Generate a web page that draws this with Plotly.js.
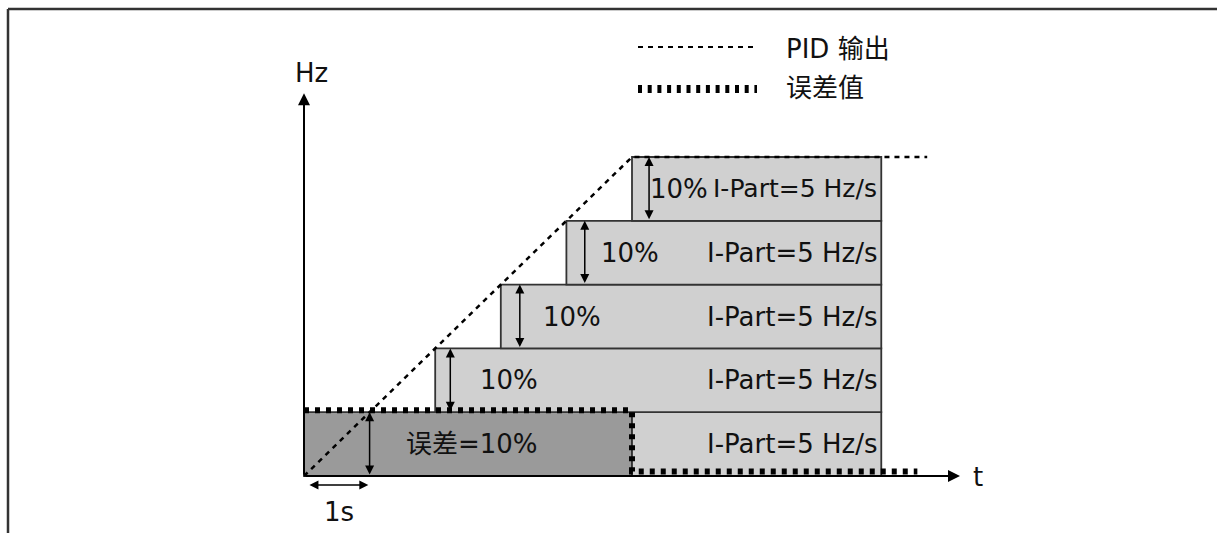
<!DOCTYPE html>
<html><head><meta charset="utf-8">
<script src="https://cdn.plot.ly/plotly-3.0.1.min.js"></script>
<style>html,body{margin:0;padding:0;background:#fff}</style>
</head><body><div id="chart" style="width:1217px;height:533px"></div>
<script>
// time in seconds, level in percent
const pidT = [0, 5, 9.5];
const pidV = [0, 50, 50];
const errT = [0, 5, 5, 9.35];
const errV = [10.3, 10.3, 0.7, 0.7];
const errBoxT = [0, 5];
const errBoxV = [0, 10];
const errLabel = '误差=10%';
const errLabelT = 2.56;
const stepStart = [5, 2, 3, 4, 5];
const stepEnd = [8.8, 8.8, 8.8, 8.8, 8.8];
const stepLow = [0, 10, 20, 30, 40];
const stepHigh = [10, 20, 30, 40, 50];
const stepLabels = ['I-Part=5 Hz/s', 'I-Part=5 Hz/s', 'I-Part=5 Hz/s', 'I-Part=5 Hz/s', 'I-Part=5 Hz/s'];
const stepLabelT = 8.76;
const pctLabels = ['10%', '10%', '10%', '10%'];
const pctLabelT = [3.12, 4.09, 4.97, 5.72];
const arrowT = [1.0, 2.23, 3.29, 4.28, 5.26];
const axisEndT = 10.0;
const axisEndV = 60;
const oneSecArrow = [0.06, 0.98];
const legendNames = ['PID 输出', '误差值'];

const FAMILY = 'DejaVu Sans, Noto Sans CJK SC, sans-serif';
const FONT = {family: FAMILY, size: 26, color: '#111'};
const FONT_TOP = {family: FAMILY, size: 25, color: '#111'};
const pxX = 1217, pxY = 533;
const px2paperX = p => p / pxX;
const px2paperY = p => 1 - p / pxY;

const traces = [
  {x: pidT, y: pidV, mode: 'lines', line: {color: '#000', width: 2.5, dash: '5px,5px'}, hoverinfo: 'skip'},
  {x: errT, y: errV, mode: 'lines', line: {color: '#000', width: 6, dash: '5px,6px'}, hoverinfo: 'skip'}
];

const shapes = [];
shapes.push({type: 'rect', xref: 'x', yref: 'y', x0: errBoxT[0], x1: errBoxT[1], y0: errBoxV[0], y1: errBoxV[1],
  fillcolor: '#9a9a9a', line: {color: '#333', width: 1.8}, layer: 'below'});
for (let i = 0; i < stepStart.length; i++) {
  shapes.push({type: 'rect', xref: 'x', yref: 'y', x0: stepStart[i], x1: stepEnd[i], y0: stepLow[i], y1: stepHigh[i],
    fillcolor: '#d0d0d0', line: {color: '#333', width: 1.8}, layer: 'below'});
}
shapes.push({type: 'line', xref: 'paper', yref: 'paper', x0: px2paperX(8), x1: 1, y0: px2paperY(9), y1: px2paperY(9), line: {color: '#333', width: 2.5}});
shapes.push({type: 'line', xref: 'paper', yref: 'paper', x0: px2paperX(8), x1: px2paperX(8), y0: px2paperY(9), y1: 0, line: {color: '#333', width: 2.5}});
shapes.push({type: 'line', xref: 'paper', yref: 'paper', x0: px2paperX(638), x1: px2paperX(757), y0: px2paperY(47), y1: px2paperY(47), line: {color: '#000', width: 2, dash: '5px,5px'}});
shapes.push({type: 'line', xref: 'paper', yref: 'paper', x0: px2paperX(638), x1: px2paperX(757), y0: px2paperY(89), y1: px2paperY(89), line: {color: '#000', width: 8, dash: '4px,5.7px'}});

const ann = [];
function arrow(x0, y0, x1, y1, both, w) {
  ann.push({x: x1, y: y1, ax: x0, ay: y0, xref: 'x', yref: 'y', axref: 'x', ayref: 'y', text: '',
    showarrow: true, arrowhead: 2, startarrowhead: 2, arrowside: both ? 'end+start' : 'end',
    arrowsize: 1.2, startarrowsize: 1.2, arrowwidth: w, arrowcolor: '#000', standoff: 0, startstandoff: 0});
}
arrow(0, 0, axisEndT, 0, false, 2);
arrow(0, 0, 0, axisEndV, false, 2);
arrow(arrowT[0], errBoxV[0], arrowT[0], errBoxV[1], true, 1.5);
for (let i = 1; i < arrowT.length; i++) arrow(arrowT[i], stepLow[i], arrowT[i], stepHigh[i], true, 1.5);
arrow(oneSecArrow[0], -1.41, oneSecArrow[1], -1.41, true, 1.5);

function txt(x, y, s, anchor, font) {
  ann.push({x: x, y: y, xref: 'x', yref: 'y', text: s, showarrow: false, font: font || FONT, xanchor: anchor || 'center', yanchor: 'middle'});
}
for (let i = 0; i < stepLabels.length; i++) txt(stepLabelT, (stepLow[i] + stepHigh[i]) / 2, stepLabels[i], 'right', i === stepLabels.length - 1 ? FONT_TOP : FONT);
for (let i = 0; i < pctLabels.length; i++) txt(pctLabelT[i], (stepLow[i + 1] + stepHigh[i + 1]) / 2, pctLabels[i]);
txt(errLabelT, (errBoxV[0] + errBoxV[1]) / 2, errLabel);
txt(0.12, 63.2, 'Hz');
txt(10.27, -0.16, 't');
txt(0.53, -5.64, '1s');
ann.push({x: px2paperX(784), y: px2paperY(49), xref: 'paper', yref: 'paper', text: legendNames[0], showarrow: false, font: FONT, xanchor: 'left', yanchor: 'middle'});
ann.push({x: px2paperX(784), y: px2paperY(88), xref: 'paper', yref: 'paper', text: legendNames[1], showarrow: false, font: FONT, xanchor: 'left', yanchor: 'middle'});

const layout = {
  width: 1217, height: 533, margin: {l: 0, r: 0, t: 0, b: 0},
  paper_bgcolor: '#fff', plot_bgcolor: '#fff', showlegend: false,
  xaxis: {range: [-304 / 65.6, 913 / 65.6], visible: false, fixedrange: true},
  yaxis: {range: [-57 / 6.38, 476 / 6.38], visible: false, fixedrange: true},
  shapes: shapes, annotations: ann
};
Plotly.newPlot('chart', traces, layout, {staticPlot: true, displayModeBar: false});
</script></body></html>
